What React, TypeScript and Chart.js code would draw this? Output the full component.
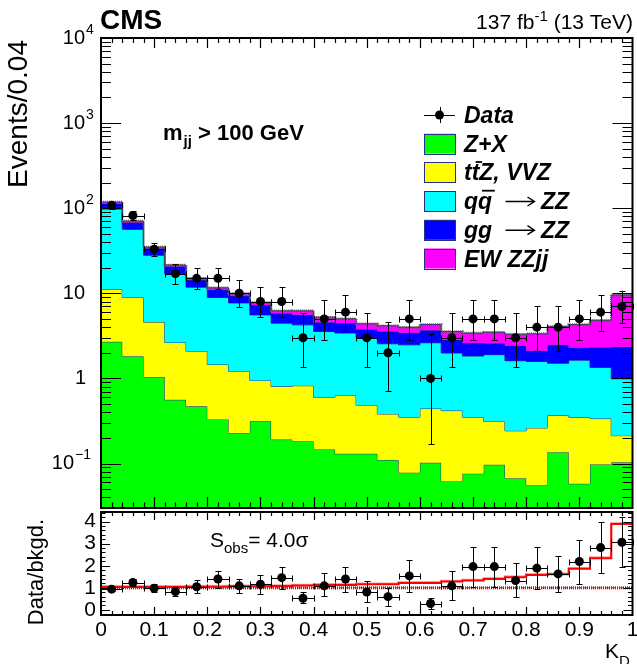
import React, { useEffect, useRef } from "react";
import { Chart, registerables } from "chart.js";

Chart.register(...registerables);

// ---------------- data ----------------
const binEdges = [0, 0.04, 0.08, 0.12, 0.16, 0.2, 0.24, 0.28, 0.32, 0.36, 0.4, 0.44, 0.48, 0.52, 0.56, 0.6, 0.64, 0.68, 0.72, 0.76, 0.8, 0.84, 0.88, 0.92, 0.96, 1.0];
const binCenters = [0.02, 0.06, 0.1, 0.14, 0.18, 0.22, 0.26, 0.3, 0.34, 0.38, 0.42, 0.46, 0.5, 0.54, 0.58, 0.62, 0.66, 0.7, 0.74, 0.78, 0.82, 0.86, 0.9, 0.94, 0.98];

const zxYield = [2.69, 1.82, 1.04, 0.56, 0.47, 0.33, 0.229, 0.313, 0.191, 0.183, 0.146, 0.13, 0.13, 0.11, 0.078, 0.102, 0.0615, 0.076, 0.0966, 0.0673, 0.0557, 0.136, 0.0578, 0.0973, 0.1035];
const ttzVvzYield = [8.41, 7.09, 3.55, 2.08, 1.62, 1.125, 0.98, 0.634, 0.615, 0.638, 0.451, 0.505, 0.355, 0.272, 0.273, 0.34, 0.357, 0.275, 0.216, 0.175, 0.206, 0.232, 0.291, 0.24, 0.109];
const qqZZYield = [86.5, 47.5, 23.4, 14.26, 9.71, 7.455, 6.5, 4.63, 3.65, 3.44, 2.96, 2.78, 2.5, 2.17, 2.13, 2.18, 1.57, 1.48, 1.59, 1.37, 1.32, 1.14, 1.29, 1.01, 0.777];
const ggZZYield = [15.4, 11.4, 5.6, 3.8, 2.6, 2.09, 1.62, 1.73, 1.39, 1.32, 1.02, 1.05, 0.8, 1.02, 0.95, 1.05, 0.85, 0.77, 0.69, 0.81, 0.53, 0.97, 0.66, 0.97, 1.36];
const ewZZjjYield = [5.0, 2.8, 1.4, 0.8, 0.6, 0.6, 0.64, 0.47, 0.37, 0.64, 0.67, 0.55, 0.6, 0.58, 0.55, 0.63, 0.72, 0.81, 0.89, 0.88, 1.23, 1.59, 2.0, 2.49, 7.23];

const dataCounts = [108, 82, 33, 17, 15, 15, 10, 8, 8, 3, 5, 6, 3, 2, 5, 1, 3, 5, 5, 3, 4, 4, 5, 6, 7];
const dataLow = [97.6, 72.9, 27.3, 12.9, 11.2, 11.2, 6.9, 5.3, 5.3, 1.37, 2.84, 3.62, 1.37, 0.71, 2.84, 0.17, 1.37, 2.84, 2.84, 1.37, 2.09, 2.09, 2.84, 3.62, 4.42];
const dataHigh = [119.4, 92.1, 39.3, 21.8, 19.6, 19.6, 14.3, 11.8, 11.8, 5.92, 8.38, 9.58, 5.92, 4.64, 8.38, 3.3, 5.92, 8.38, 8.38, 5.92, 7.16, 7.16, 8.38, 9.58, 10.77];

const ratioValues = [0.94, 1.24, 0.98, 0.83, 1.05, 1.4, 1.09, 1.16, 1.46, 0.53, 1.09, 1.4, 0.81, 0.6, 1.54, 0.29, 1.09, 1.96, 1.96, 1.33, 1.89, 1.63, 2.19, 2.82, 3.06];
const ratioLow = [0.85, 1.1, 0.81, 0.63, 0.78, 0.98, 0.76, 0.72, 0.95, 0.33, 0.62, 0.83, 0.36, 0.18, 0.83, 0.05, 0.45, 1.05, 1.05, 0.58, 0.94, 0.8, 1.18, 1.66, 1.96];
const ratioHigh = [1.04, 1.38, 1.17, 1.04, 1.36, 1.76, 1.4, 1.57, 1.96, 0.8, 1.66, 1.96, 1.3, 1.0, 2.26, 0.56, 1.76, 2.84, 2.84, 2.11, 2.84, 2.46, 3.17, 3.97, 4.22];
const expectedRatio = [1.04, 1.04, 1.04, 1.04, 1.05, 1.05, 1.07, 1.07, 1.08, 1.1, 1.13, 1.13, 1.16, 1.16, 1.22, 1.22, 1.28, 1.33, 1.4, 1.48, 1.58, 1.61, 1.86, 2.34, 3.89];
const ratioReference = [1, 1];

const logTickExponents = [-1, 0, 1, 2, 3, 4];
const ratioTickLabels = ["0", "1", "2", "3", "4"];
const xTickLabels = ["0", "0.1", "0.2", "0.3", "0.4", "0.5", "0.6", "0.7", "0.8", "0.9", "1"];

const legendLabels = ["Data", "Z+X", "tt\u0304Z, VVZ", "qq\u0304 \u2192 ZZ", "gg \u2192 ZZ", "EW ZZjj"];
const layerColors = ["#00ff00", "#ffff00", "#00ffff", "#0000ff", "#ff00ff"];

// ---------------- layout ----------------
const W = 637;
const H = 664;
const MAIN = { left: 101, right: 633, top: 38, bottom: 508 };
const RATIO = { left: 101, right: 633, top: 512, bottom: 615 };
const SANS = '"Liberation Sans", Arial, Helvetica, sans-serif';
const OUTLINE = "#24308a";

function stepPts(vals: number[]) {
  return binEdges.map((e, i) => ({ x: e, y: vals[Math.min(i, vals.length - 1)] }));
}

function px(v: number) {
  return Math.round(v) + 0.5;
}

const errorBarPlugin = {
  id: "errorBars",
  beforeDatasetDraw(chart: any, args: any) {
    const ds = chart.data.datasets[args.index];
    if (!ds.errLow) return;
    const { ctx, chartArea } = chart;
    const xs = chart.scales.x;
    const ys = chart.scales.y;
    ctx.save();
    ctx.strokeStyle = "#000";
    ctx.lineWidth = 1;
    ds.data.forEach((p: any, i: number) => {
      const cx = px(xs.getPixelForValue(p.x));
      const cy = px(ys.getPixelForValue(p.y));
      const xl = px(xs.getPixelForValue(binEdges[i]));
      const xr = px(xs.getPixelForValue(binEdges[i + 1]));
      const yl = Math.min(px(ys.getPixelForValue(ds.errLow[i])), chartArea.bottom);
      const yh = Math.max(px(ys.getPixelForValue(ds.errHigh[i])), chartArea.top);
      ctx.beginPath();
      ctx.moveTo(xl, cy);
      ctx.lineTo(xr, cy);
      ctx.moveTo(xl, cy - 3);
      ctx.lineTo(xl, cy + 3);
      ctx.moveTo(xr, cy - 3);
      ctx.lineTo(xr, cy + 3);
      ctx.moveTo(cx, yh);
      ctx.lineTo(cx, yl);
      ctx.moveTo(cx - 3, yh);
      ctx.lineTo(cx + 3, yh);
      if (yl < chartArea.bottom) {
        ctx.moveTo(cx - 3, yl);
        ctx.lineTo(cx + 3, yl);
      }
      ctx.stroke();
    });
    ctx.restore();
  },
};

function drawRich(ctx: CanvasRenderingContext2D, s: string, x: number, y: number, size: number) {
  const chars = Array.from(s);
  let cx = x;
  for (let i = 0; i < chars.length; i++) {
    const c = chars[i];
    if (c === "\u0304") continue;
    if (c === "\u2192") {
      const ay = y - size * 0.33;
      const x0 = cx + 7;
      const x1 = cx + 36;
      ctx.save();
      ctx.lineWidth = 1.4;
      ctx.strokeStyle = "#000";
      ctx.beginPath();
      ctx.moveTo(x0, ay);
      ctx.lineTo(x1, ay);
      ctx.moveTo(x1 - 7, ay - 4.5);
      ctx.lineTo(x1, ay);
      ctx.lineTo(x1 - 7, ay + 4.5);
      ctx.stroke();
      ctx.restore();
      cx = x1;
      continue;
    }
    ctx.fillText(c, cx, y);
    const w = ctx.measureText(c).width;
    if (chars[i + 1] === "\u0304") {
      ctx.save();
      ctx.lineWidth = 1.8;
      ctx.strokeStyle = "#000";
      ctx.beginPath();
      const by = y - size * 0.8;
      ctx.moveTo(cx + size * 0.17, by);
      ctx.lineTo(cx + w + size * 0.12, by);
      ctx.stroke();
      ctx.restore();
    }
    cx += w;
  }
}

const mainDecor = {
  id: "mainDecor",
  afterDraw(chart: any) {
    const { ctx, chartArea: a } = chart;
    const xs = chart.scales.x;
    const ys = chart.scales.y;
    ctx.save();
    // ticks
    ctx.strokeStyle = "#000";
    ctx.lineWidth = 1.2;
    ctx.beginPath();
    for (let e = -2; e <= 4; e++) {
      for (let k = 1; k <= 9; k++) {
        const v = k * Math.pow(10, e);
        if (v < ys.min * 0.999 || v > ys.max * 1.001) continue;
        const yy = px(ys.getPixelForValue(v));
        const len = k === 1 ? 20 : 10;
        ctx.moveTo(a.left, yy);
        ctx.lineTo(a.left + len, yy);
        ctx.moveTo(a.right, yy);
        ctx.lineTo(a.right - len, yy);
      }
    }
    for (let i = 1; i < 50; i++) {
      const xx = px(xs.getPixelForValue(i * 0.02));
      const major = i % 5 === 0;
      ctx.moveTo(xx, a.bottom);
      ctx.lineTo(xx, a.bottom - (major ? 11 : 5.5));
      ctx.moveTo(xx, a.top);
      ctx.lineTo(xx, a.top + (major ? 10 : 5));
    }
    ctx.stroke();
    // frame
    ctx.lineWidth = 2;
    ctx.strokeRect(a.left, a.top, a.right - a.left, a.bottom - a.top);

    // y labels
    ctx.fillStyle = "#000";
    ctx.textBaseline = "middle";
    logTickExponents.forEach((e) => {
      const yy = ys.getPixelForValue(Math.pow(10, e));
      ctx.font = `20px ${SANS}`;
      ctx.textAlign = "right";
      if (e === 0) {
        ctx.fillText("1", 86, yy);
      } else if (e === 1) {
        ctx.fillText("10", 85, yy);
      } else {
        const base = e < 0 ? 74 : 85;
        ctx.fillText("10", base, yy);
        ctx.font = `14px ${SANS}`;
        ctx.textAlign = "left";
        ctx.fillText(e < 0 ? "\u2212" + Math.abs(e) : String(e), base + 1, yy - 8);
      }
    });

    // y title
    ctx.save();
    ctx.translate(19, 40);
    ctx.rotate(-Math.PI / 2);
    ctx.font = `28px ${SANS}`;
    ctx.textAlign = "right";
    ctx.textBaseline = "middle";
    ctx.fillText("Events/0.04", 0, 0);
    ctx.restore();

    // header
    ctx.textBaseline = "alphabetic";
    ctx.textAlign = "left";
    ctx.font = `bold 28px ${SANS}`;
    ctx.fillText("CMS", 100, 29);
    const p1 = "137 fb";
    const p2 = "-1";
    const p3 = " (13 TeV)";
    ctx.font = `21px ${SANS}`;
    const w1 = ctx.measureText(p1).width;
    const w3 = ctx.measureText(p3).width;
    ctx.font = `15px ${SANS}`;
    const w2 = ctx.measureText(p2).width;
    let sx = 633 - (w1 + w2 + w3);
    ctx.font = `21px ${SANS}`;
    ctx.fillText(p1, sx, 29);
    sx += w1;
    ctx.font = `15px ${SANS}`;
    ctx.fillText(p2, sx, 21);
    sx += w2;
    ctx.font = `21px ${SANS}`;
    ctx.fillText(p3, sx, 29);

    // m_jj label
    ctx.font = `bold 22px ${SANS}`;
    let mx = 163;
    ctx.fillText("m", mx, 140);
    mx += ctx.measureText("m").width + 1;
    ctx.font = `bold 15px ${SANS}`;
    ctx.fillText("jj", mx, 146);
    mx += ctx.measureText("jj").width;
    ctx.font = `bold 22px ${SANS}`;
    ctx.fillText(" > 100 GeV", mx, 140);

    // legend
    const lx = 424;
    const lw = 31;
    const lh = 20;
    const tx = 464;
    legendLabels.forEach((lab, i) => {
      const cy = 115 + i * 28.7;
      if (i === 0) {
        ctx.strokeStyle = "#000";
        ctx.lineWidth = 1;
        ctx.beginPath();
        ctx.moveTo(lx, px(cy));
        ctx.lineTo(lx + lw, px(cy));
        ctx.moveTo(px(lx + lw / 2), cy - 8);
        ctx.lineTo(px(lx + lw / 2), cy + 8);
        ctx.stroke();
        ctx.fillStyle = "#000";
        ctx.beginPath();
        ctx.arc(lx + lw / 2, cy, 4.5, 0, Math.PI * 2);
        ctx.fill();
      } else {
        ctx.fillStyle = layerColors[i - 1];
        ctx.fillRect(lx, cy - lh / 2, lw, lh);
        ctx.strokeStyle = OUTLINE;
        ctx.lineWidth = 1;
        ctx.strokeRect(lx + 0.5, Math.round(cy - lh / 2) + 0.5, lw, lh);
      }
      ctx.fillStyle = "#000";
      ctx.font = `italic bold 23px ${SANS}`;
      ctx.textAlign = "left";
      ctx.textBaseline = "alphabetic";
      drawRich(ctx, lab, tx, cy + 8, 23);
    });
    ctx.restore();
  },
};

const ratioDecor = {
  id: "ratioDecor",
  afterDraw(chart: any) {
    const { ctx, chartArea: a } = chart;
    const xs = chart.scales.x;
    const ys = chart.scales.y;
    ctx.save();
    ctx.strokeStyle = "#000";
    ctx.lineWidth = 1.2;
    ctx.beginPath();
    for (let i = -1; i <= 22; i++) {
      const v = i * 0.2;
      if (v < ys.min || v > ys.max) continue;
      const yy = px(ys.getPixelForValue(v));
      const len = i % 5 === 0 ? 9 : 4.5;
      ctx.moveTo(a.left, yy);
      ctx.lineTo(a.left + len, yy);
      ctx.moveTo(a.right, yy);
      ctx.lineTo(a.right - len, yy);
    }
    for (let i = 1; i < 50; i++) {
      const xx = px(xs.getPixelForValue(i * 0.02));
      const major = i % 5 === 0;
      ctx.moveTo(xx, a.bottom);
      ctx.lineTo(xx, a.bottom - (major ? 8 : 4));
      ctx.moveTo(xx, a.top);
      ctx.lineTo(xx, a.top + (major ? 8 : 4));
    }
    ctx.stroke();
    ctx.lineWidth = 2;
    ctx.strokeRect(a.left, a.top, a.right - a.left, a.bottom - a.top);

    ctx.fillStyle = "#000";
    ctx.font = `21px ${SANS}`;
    ctx.textAlign = "right";
    ctx.textBaseline = "middle";
    ratioTickLabels.forEach((lab, i) => {
      ctx.fillText(lab, 96, ys.getPixelForValue(i));
    });
    ctx.textAlign = "center";
    ctx.textBaseline = "alphabetic";
    xTickLabels.forEach((lab, i) => {
      ctx.fillText(lab, xs.getPixelForValue(i * 0.1), 636);
    });

    // x title
    ctx.textAlign = "left";
    ctx.font = `21px ${SANS}`;
    ctx.fillText("K", 605, 658);
    const kw = ctx.measureText("K").width;
    ctx.font = `15px ${SANS}`;
    ctx.fillText("D", 605 + kw, 666);

    // y title
    ctx.save();
    ctx.translate(37, 572);
    ctx.rotate(-Math.PI / 2);
    ctx.font = `22px ${SANS}`;
    ctx.textAlign = "center";
    ctx.textBaseline = "middle";
    ctx.fillText("Data/bkgd.", 0, 0);
    ctx.restore();

    // significance
    ctx.textAlign = "left";
    ctx.textBaseline = "alphabetic";
    ctx.font = `21px ${SANS}`;
    let sx = 210;
    ctx.fillText("S", sx, 547);
    sx += ctx.measureText("S").width;
    ctx.font = `15px ${SANS}`;
    ctx.fillText("obs", sx, 553);
    sx += ctx.measureText("obs").width;
    ctx.font = `21px ${SANS}`;
    ctx.fillText("= 4.0\u03c3", sx, 547);
    ctx.restore();
  },
};

function mainConfig(): any {
  let cum = zxYield.map(() => 0);
  const layers = [zxYield, ttzVvzYield, qqZZYield, ggZZYield, ewZZjjYield];
  const layerSets = layers.map((vals, i) => {
    cum = cum.map((c, j) => c + vals[j]);
    return {
      data: stepPts(cum),
      stepped: "before",
      fill: i === 0 ? "start" : "-1",
      backgroundColor: layerColors[i],
      borderColor: OUTLINE,
      borderWidth: 1,
      pointRadius: 0,
      order: 10 - i,
    };
  });
  const total = cum.slice();
  return {
    type: "line",
    data: {
      datasets: [
        ...layerSets,
        {
          data: stepPts(total),
          stepped: "before",
          fill: false,
          borderColor: "#555",
          borderWidth: 2.5,
          borderDash: [1, 1],
          pointRadius: 0,
          order: 2,
        },
        {
          data: binCenters.map((c, i) => ({ x: c, y: dataCounts[i] })),
          showLine: false,
          pointRadius: 4.5,
          pointHoverRadius: 4.5,
          pointBackgroundColor: "#000",
          pointBorderColor: "#000",
          pointBorderWidth: 0,
          errLow: dataLow,
          errHigh: dataHigh,
          order: 0,
        },
      ],
    },
    options: {
      responsive: false,
      animation: false,
      devicePixelRatio: 1,
      layout: { padding: { left: MAIN.left, right: W - MAIN.right, top: MAIN.top, bottom: H - MAIN.bottom } },
      scales: {
        x: { type: "linear", min: 0, max: 1, display: false },
        y: { type: "logarithmic", min: 0.03, max: 10000, display: false },
      },
      plugins: { legend: { display: false }, tooltip: { enabled: false } },
      events: [],
    },
    plugins: [errorBarPlugin, mainDecor],
  };
}

function ratioConfig(): any {
  return {
    type: "line",
    data: {
      datasets: [
        {
          data: [{ x: 0, y: ratioReference[0] }, { x: 1, y: ratioReference[1] }],
          borderColor: "#444",
          borderWidth: 3,
          borderDash: [1, 1],
          pointRadius: 0,
          fill: false,
          order: 6,
        },
        {
          data: [{ x: 0, y: ratioReference[0] }, { x: 1, y: ratioReference[1] }],
          borderColor: "#ff0000",
          borderWidth: 1,
          borderDash: [4, 3],
          pointRadius: 0,
          fill: false,
          order: 5,
        },
        {
          data: stepPts(expectedRatio.map((v) => v + 0.04)),
          stepped: "before",
          borderColor: "rgba(255,120,120,0.7)",
          borderWidth: 2,
          pointRadius: 0,
          fill: false,
          order: 4,
        },
        {
          data: stepPts(expectedRatio),
          stepped: "before",
          borderColor: "#ff0000",
          borderWidth: 2,
          pointRadius: 0,
          fill: false,
          order: 3,
        },
        {
          data: binCenters.map((c, i) => ({ x: c, y: ratioValues[i] })),
          showLine: false,
          pointRadius: 4.5,
          pointHoverRadius: 4.5,
          pointBackgroundColor: "#000",
          pointBorderColor: "#000",
          pointBorderWidth: 0,
          errLow: ratioLow,
          errHigh: ratioHigh,
          order: 0,
        },
      ],
    },
    options: {
      responsive: false,
      animation: false,
      devicePixelRatio: 1,
      layout: { padding: { left: RATIO.left, right: W - RATIO.right, top: RATIO.top, bottom: H - RATIO.bottom } },
      scales: {
        x: { type: "linear", min: 0, max: 1, display: false },
        y: { type: "linear", min: -0.23, max: 4.43, display: false },
      },
      plugins: { legend: { display: false }, tooltip: { enabled: false } },
      events: [],
    },
    plugins: [errorBarPlugin, ratioDecor],
  };
}

export default function App() {
  const mainRef = useRef<HTMLCanvasElement>(null);
  const ratioRef = useRef<HTMLCanvasElement>(null);
  useEffect(() => {
    const c1 = new Chart(mainRef.current as HTMLCanvasElement, mainConfig());
    const c2 = new Chart(ratioRef.current as HTMLCanvasElement, ratioConfig());
    return () => {
      c1.destroy();
      c2.destroy();
    };
  }, []);
  const cs: React.CSSProperties = { position: "absolute", left: 0, top: 0, width: W, height: H };
  return (
    <div style={{ position: "absolute", left: 0, top: 0, width: W, height: H, background: "#fff", overflow: "hidden" }}>
      <canvas ref={mainRef} width={W} height={H} style={cs} />
      <canvas ref={ratioRef} width={W} height={H} style={cs} />
    </div>
  );
}
